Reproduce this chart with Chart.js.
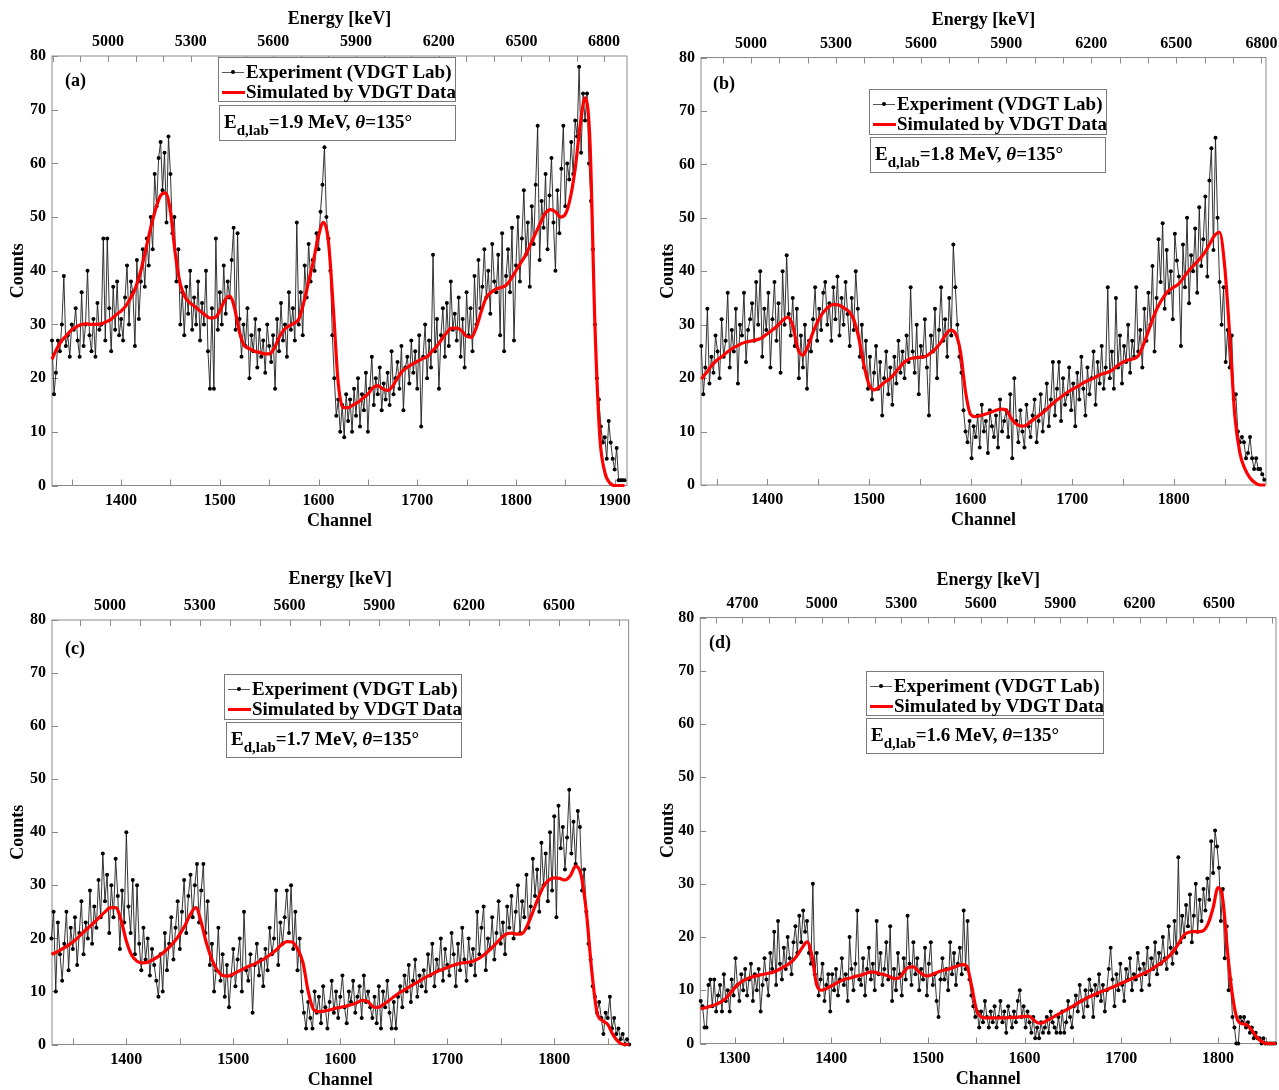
<!DOCTYPE html>
<html>
<head>
<meta charset="utf-8">
<script src="https://cdn.jsdelivr.net/npm/chart.js@4.4.1/dist/chart.umd.min.js"></script>
<style>
  body { margin: 0; background: #fff; width: 1279px; height: 1090px; position: relative; overflow: hidden;
         font-family: "Liberation Serif", "Times New Roman", serif; font-weight: bold; color: #000; }
  canvas { position: absolute; }
  .box { position: absolute; background: #fff; border: 1px solid #7a7a7a; box-sizing: border-box; }
  .txt { position: absolute; font-size: 19px; line-height: 20px; white-space: nowrap; }
  .sub { font-size: 15px; position: relative; top: 7px; }
  .tag { position: absolute; font-size: 18px; line-height: 20px; }
  .ln { position: absolute; left: 3px; width: 22px; height: 1px; background: #555; }
  .dot { position: absolute; left: 12px; width: 4px; height: 4px; border-radius: 50%; background: #000; }
  .red { position: absolute; left: 3px; width: 23px; height: 3px; background: #ff0000; }
</style>
</head>
<body>
<canvas id="ca" width="640" height="545" style="left:0;top:0"></canvas>
<canvas id="cb" width="639" height="545" style="left:640px;top:0"></canvas>
<canvas id="cc" width="640" height="530" style="left:0;top:560px"></canvas>
<canvas id="cd" width="639" height="530" style="left:640px;top:560px"></canvas>
<script>
// tick labels
const chanLabels = [1300, 1400, 1500, 1600, 1700, 1800, 1900];
const energyLabels = [4700, 5000, 5300, 5600, 5900, 6200, 6500, 6800];

// experiment counts, one value every 2 channels
const expStartA = 1330;
const expA = [
  27,17,21,27,25,30,39,26,28,24,30,29,33,27,24,36,26,30,40,28,25,31,24,34,29,
  30,46,27,46,33,25,37,29,38,28,31,27,35,41,30,38,36,26,42,31,38,44,37,46,41,
  50,44,58,52,61,64,55,62,49,65,58,47,50,38,44,30,36,28,37,32,40,29,35,30,38,
  27,34,30,40,25,18,33,18,46,29,36,30,41,32,38,35,42,48,29,47,31,24,30,26,33,
  20,28,25,31,22,29,24,27,21,30,26,23,28,18,31,25,34,27,30,24,36,29,33,27,49,
  30,36,28,41,35,45,38,42,40,47,44,51,56,63,50,46,40,28,20,13,16,10,15,9,17,
  12,16,10,18,13,20,11,17,14,21,10,18,24,15,20,17,22,14,19,16,21,15,25,17,20,
  23,18,26,14,22,24,19,27,21,25,18,28,11,24,30,20,27,22,43,25,31,18,28,33,24,
  34,26,38,29,32,27,35,24,31,22,36,28,33,25,39,30,42,33,37,44,35,40,32,45,38,
  36,43,28,47,25,39,44,36,48,27,41,50,38,46,55,43,49,37,52,45,56,67,42,53,48,
  58,44,54,61,49,40,55,47,59,67,52,60,57,64,58,68,65,78,62,73,68,73,60,53,44,
  30,20,16,11,8,9,5,12,8,5,3,7,1,1,1,1
];
const expStartB = 1335;
const expB = [
  26,17,22,33,19,24,21,28,25,20,31,24,27,36,22,29,25,33,19,30,28,36,23,29,31,
  34,27,38,30,40,24,33,29,36,22,31,38,27,34,21,40,30,43,32,28,35,26,33,20,28,
  22,30,18,27,25,31,37,27,33,29,36,38,30,34,27,37,31,39,28,35,30,38,32,26,35,
  29,40,33,24,30,22,27,18,24,16,21,26,18,23,13,20,25,17,22,15,24,19,27,21,25,
  20,28,23,37,25,21,30,17,26,24,31,22,13,28,25,33,20,29,37,27,31,24,35,28,45,
  37,30,24,21,14,10,8,12,5,11,9,13,7,15,10,12,6,14,11,9,13,7,16,10,12,
  14,9,17,5,20,12,8,14,10,7,15,11,9,13,16,8,12,17,10,14,19,11,16,23,13,
  18,23,12,20,15,17,22,14,19,11,21,16,24,18,13,22,17,20,25,15,23,19,26,18,22,
  37,20,25,18,35,22,28,19,26,23,30,21,27,24,37,25,29,22,33,27,36,30,41,25,35,
  46,38,49,33,44,36,40,31,47,42,39,26,45,37,50,34,43,40,48,36,52,41,46,54,39,
  57,63,44,65,50,38,30,37,23,29,22,28,16,17,10,8,9,8,5,6,9,5,3,5,3,
  3,2,1
];
const expStartC = 1330;
const expC = [
  20,25,10,23,17,12,19,25,14,22,18,24,15,21,27,17,23,20,29,19,26,22,31,24,36,
  27,32,21,30,24,35,28,18,29,23,40,26,21,31,17,30,19,14,22,16,20,13,18,15,12,
  9,17,10,21,14,19,24,16,22,27,18,25,31,21,28,32,24,30,34,23,29,34,21,27,15,
  19,10,14,22,12,17,9,15,7,13,18,11,16,20,10,25,14,12,17,6,15,19,13,16,11,
  18,14,22,17,20,29,15,23,19,24,29,21,30,18,25,14,20,10,6,3,8,5,3,10,6,
  9,4,11,7,3,8,12,6,10,5,9,13,7,4,10,8,12,6,9,11,5,13,8,10,7,
  5,9,4,11,3,10,7,12,6,3,8,3,9,11,7,13,10,15,8,12,16,9,13,11,14,
  10,17,13,19,11,16,14,20,12,18,15,13,21,17,11,19,14,22,16,12,20,15,18,13,25,
  17,22,26,14,20,18,24,16,21,27,19,23,17,26,22,28,20,25,30,21,27,24,32,22,26,
  35,28,33,25,38,30,36,27,40,29,43,24,45,37,41,33,39,48,36,42,34,44,41,29,33,
  25,19,16,11,9,6,8,5,2,6,5,9,3,5,2,3,1,2,0,1,0
];
const expStartD = 1265;
const expD = [
  8,7,3,3,11,12,7,12,6,9,11,6,13,8,10,6,12,9,16,11,8,13,10,14,9,
  12,15,8,13,10,14,6,11,16,12,9,17,14,21,11,23,15,12,18,14,20,16,13,19,22,
  17,24,19,25,21,23,17,15,30,13,17,9,12,15,8,11,13,6,13,10,14,9,12,16,11,
  13,8,20,14,10,15,25,12,11,16,9,14,18,12,15,10,23,13,17,11,14,19,12,22,8,
  14,10,17,13,9,16,12,24,15,11,19,13,16,10,14,12,18,9,15,19,11,13,8,5,12,
  16,12,14,10,19,13,17,11,15,18,13,25,14,23,12,9,7,5,6,3,6,4,8,5,3,
  6,4,7,3,5,8,4,6,2,7,5,3,6,4,8,10,5,7,3,6,4,2,5,1,3,
  1,4,2,3,5,2,6,4,3,2,5,2,6,2,4,8,5,3,7,9,6,11,8,5,10,
  7,12,10,5,11,9,13,8,11,6,10,14,18,12,7,13,10,15,11,8,14,12,16,10,13,
  12,17,14,10,15,13,18,11,16,14,19,13,17,15,20,16,14,22,18,15,23,17,35,19,24,
  20,26,22,28,19,24,30,21,27,23,29,25,31,27,38,32,40,37,33,23,29,16,22,10,12,
  5,3,0,0,5,4,5,3,4,2,3,1,2,1,1,0,1,0,0,0,0,0,0
];

// simulated curves, one value every 5 channels
const simStartA = 1330;
const simA = [
  23.5,25.5,27,28,29,29.6,30,30.1,30,30,
  30.1,30.5,31,31.8,32.5,33.5,35,37,40,44,
  48,51.5,54,54.5,51,43,37.5,35,34,33.3,
  32.5,31.8,31.2,31.3,32.5,34.5,35.3,33,28.5,26,
  25.5,25,24.8,24.5,24.5,25.5,27.5,29,29.7,30.2,
  31,34,38,42,46.5,49,45.5,33,19,14.5,
  14.5,15,15.5,16.3,17,18.2,18.6,18,17.7,18.5,
  20,21.3,22,22.6,23.1,23.6,24,25,26,27.3,
  28.5,29.3,29.3,28.8,27.8,27.6,29.5,32.5,35,36,
  36.6,36.9,37.3,38.5,40,41.5,43,45,47,49,
  50.8,51.4,51,50,50.5,53.5,59,67,72.2,64,
  30,9,2.5,0.5,0,0,0
];
const simStartB = 1335;
const simB = [
  19.8,21,22.3,23.3,24,24.8,25.5,26,26.5,26.8,
  27,27.2,27.6,28.3,29,29.8,30.8,31.4,29.8,25.5,
  24.3,26,28.6,30.8,32.3,33.3,33.8,33.7,33.2,32.5,
  31,27.5,22.5,18.8,17.8,18.3,19.2,19.8,20.8,22,
  23,23.6,23.8,23.9,24,24.6,25.4,26.5,28,29,
  28.4,25,17.5,13.2,12.8,13,13.3,13.6,14,14.2,
  14,12.5,11.4,11,11.2,12,12.7,13.4,14.2,15.1,
  15.9,16.6,17.3,17.9,18.4,19,19.5,19.9,20.4,20.8,
  21.1,21.6,22.4,23,23.4,23.6,24.2,26.2,28.8,31.5,
  33.6,35.2,36.4,37,37.7,38.9,40.2,41.2,42.2,43.4,
  45,46.7,47.3,41,28,13,6,3,1.3,0.4,
  0,0
];
const simStartC = 1330;
const simC = [
  17,17.4,18,18.6,19.3,20.2,21.2,22.1,23,24,
  25,25.8,25.8,23.5,19.5,16.8,15.7,15.4,15.5,16,
  16.6,17.4,18.3,19.4,20.8,22.5,24.6,25.8,23,19,
  16,14,13,12.9,13.3,13.8,14.3,14.8,15.2,15.7,
  16.3,17,17.8,18.8,19.4,19.3,18,15.5,10,6.6,
  6.2,6.3,6.5,6.8,7,7.2,7.5,7.8,8.3,8.2,
  7.2,7,7.5,8.2,9,9.7,10.3,10.9,11.5,12.1,
  12.7,13.2,13.7,14.1,14.5,14.9,15.2,15.4,15.5,15.8,
  16.3,17,17.9,18.9,20,20.8,21,20.8,20.9,22.5,
  25,27.6,29.8,31,31.4,31.3,31,31.8,33.6,32,
  25,14,6,4.5,3.8,1.8,0.5,0,0
];
const simStartD = 1265;
const simD = [
  6.5,6.7,7,7.3,7.7,8.3,9.3,10.4,11.3,11.9,
  12.3,12.6,12.8,13,13.2,13.4,13.8,14.3,14.8,15.5,
  16.6,18,19.1,16.5,11,10,10.3,10.8,11.3,11.8,
  12.1,12.3,12.6,12.8,13.1,13.4,13.4,13.1,12.9,12.6,
  12.2,12.3,13.4,14.3,14.4,13.6,12.9,12.7,13,13.4,
  13.7,13.9,14.2,14.5,14.8,14.6,11,6.5,5,4.8,
  4.8,4.8,4.8,4.8,4.9,4.9,5,5.1,5.1,4.3,
  3.8,4,4.5,5,5.5,6,6.5,7,7.6,8.1,
  8.6,9,9.4,9.8,10.1,10.5,10.9,11.3,11.7,12.1,
  12.5,12.9,13.3,13.8,14.4,15,15.7,16.5,17.6,19,
  20.4,20.9,21,21,21.2,22.6,25.5,29.3,27,17,
  9,4.5,3.7,3.5,2.5,1.2,0.4,0,0,0
];

Chart.defaults.font.family = '"Liberation Serif", "Times New Roman", serif';
Chart.defaults.font.weight = 'bold';
Chart.defaults.color = '#000';

// box and inward tick marks, matlab style
const frame = {
  id: 'frame',
  beforeDatasetsDraw(chart) {
    const { ctx, chartArea: a, scales } = chart;
    ctx.save();
    ctx.strokeStyle = '#8a8a8a';
    ctx.lineWidth = 1;
    ctx.strokeRect(a.left, a.top, a.right - a.left, a.bottom - a.top);
    ctx.beginPath();
    scales.x.ticks.forEach(t => {
      const p = Math.round(scales.x.getPixelForValue(t.value)) + 0.5;
      ctx.moveTo(p, a.bottom); ctx.lineTo(p, a.bottom - 6);
    });
    scales.x2.ticks.forEach(t => {
      const p = Math.round(scales.x2.getPixelForValue(t.value)) + 0.5;
      ctx.moveTo(p, a.top); ctx.lineTo(p, a.top + 6);
    });
    scales.y.ticks.forEach(t => {
      const p = Math.round(scales.y.getPixelForValue(t.value)) + 0.5;
      ctx.moveTo(a.left, p); ctx.lineTo(a.left + 6, p);
    });
    ctx.stroke();
    ctx.restore();
  }
};

// ticks on round multiples of step inside the axis range
function stepTicks(step) {
  return s => {
    const out = [];
    for (let v = Math.ceil(s.min / step) * step; v <= s.max; v += step) out.push({ value: v });
    s.ticks = out;
  };
}

function makeChart(id, p) {
  const expData = p.exp.map((v, i) => ({ x: p.expStart + 2 * i, y: v }));
  const simData = p.sim.map((v, i) => ({ x: p.simStart + 5 * i, y: v }));
  const tickFont = { size: 16, weight: 'bold', lineHeight: 1 };
  const titleFont = { size: 18, weight: 'bold', lineHeight: 1 };
  const noGrid = { display: false, drawTicks: false };
  return new Chart(document.getElementById(id), {
    type: 'line',
    data: {
      datasets: [
        { label: 'Simulated by VDGT Data', data: simData, borderColor: '#ff0000', borderWidth: 3.2,
          pointRadius: 0, pointHoverRadius: 0, cubicInterpolationMode: 'monotone', fill: false, order: 0, clip: 6 },
        { label: 'Experiment (VDGT Lab)', data: expData, borderColor: 'rgba(30,30,30,0.9)', borderWidth: 1,
          pointRadius: 2, pointHoverRadius: 0, pointBackgroundColor: '#000', pointBorderWidth: 0,
          fill: false, order: 1, clip: 6 }
      ]
    },
    options: {
      responsive: false,
      animation: false,
      devicePixelRatio: 1,
      events: [],
      layout: { padding: { left: 0, top: 0, bottom: 0, right: p.padR } },
      plugins: { legend: { display: false }, tooltip: { enabled: false } },
      scales: {
        x: {
          type: 'linear', position: 'bottom', min: p.cMin, max: p.cMax,
          grid: noGrid, border: { display: false },
          afterBuildTicks: stepTicks(50),
          ticks: { autoSkip: false, maxRotation: 0, minRotation: 0,
                   padding: 7, font: tickFont, color: '#000',
                   callback: v => chanLabels.includes(v) ? String(v) : '' },
          title: { display: true, text: 'Channel', font: titleFont, color: '#000', padding: { top: 0, bottom: p.chanPad } },
          afterFit: s => { s.height = p.bottomH; s.paddingLeft = 0; s.paddingRight = 0; }
        },
        x2: {
          type: 'linear', position: 'top', min: p.eMin, max: p.eMax,
          grid: noGrid, border: { display: false },
          afterBuildTicks: stepTicks(100),
          ticks: { autoSkip: false, maxRotation: 0, minRotation: 0,
                   padding: 6, font: tickFont, color: '#000',
                   callback: v => energyLabels.includes(v) ? String(v) : '' },
          title: { display: true, text: 'Energy [keV]', font: titleFont, color: '#000', padding: { top: p.enPad, bottom: 0 } },
          afterFit: s => { s.height = p.topH; s.paddingLeft = 0; s.paddingRight = 0; }
        },
        y: {
          type: 'linear', position: 'left', min: 0, max: 80,
          grid: noGrid, border: { display: false },
          afterBuildTicks: stepTicks(10),
          ticks: { padding: 6, font: tickFont, color: '#000' },
          title: { display: true, text: 'Counts', font: titleFont, color: '#000', padding: { top: p.cntPad, bottom: 0 } },
          afterFit: s => { s.width = p.leftW; s.paddingTop = 0; s.paddingBottom = 0; }
        }
      }
    },
    plugins: [frame]
  });
}

makeChart('ca', { exp: expA, expStart: expStartA, sim: simA, simStart: simStartA,
  cMin: 1330, cMax: 1912.5, eMin: 4797, eMax: 6883,
  leftW: 52, padR: 13, topH: 56, bottomH: 59.5, chanPad: 15, enPad: 10, cntPad: 9 });
makeChart('cb', { exp: expB, expStart: expStartB, sim: simB, simStart: simStartB,
  cMin: 1334.7, cMax: 1890.7, eMin: 4824, eMax: 6816,
  leftW: 61, padR: 13, topH: 57.5, bottomH: 60, chanPad: 16, enPad: 11, cntPad: 19 });
makeChart('cc', { exp: expC, expStart: expStartC, sim: simC, simStart: simStartC,
  cMin: 1330.5, cMax: 1869.5, eMin: 4806, eMax: 6733,
  leftW: 52, padR: 11.4, topH: 60, bottomH: 45.5, chanPad: 1, enPad: 10, cntPad: 9 });
makeChart('cd', { exp: expD, expStart: expStartD, sim: simD, simStart: simStartD,
  cMin: 1264.6, cMax: 1860, eMin: 4541, eMax: 6715,
  leftW: 60.3, padR: 3, topH: 57.5, bottomH: 46.5, chanPad: 2, enPad: 11, cntPad: 19 });

// legends, condition boxes and panel tags
const notes = [
  { lx: 218, ly: 57, lw: 238, lh: 45, ax: 219, ay: 105, aw: 237, ah: 36, ed: '1.9', tag: '(a)', tx: 65, ty: 70 },
  { lx: 869, ly: 89, lw: 238, lh: 46, ax: 870, ay: 137, aw: 236, ah: 36, ed: '1.8', tag: '(b)', tx: 713, ty: 73 },
  { lx: 224, ly: 674, lw: 238, lh: 46, ax: 226, ay: 722, aw: 236, ah: 36, ed: '1.7', tag: '(c)', tx: 65, ty: 638 },
  { lx: 866, ly: 671, lw: 238, lh: 45, ax: 866, ay: 718, aw: 238, ah: 36, ed: '1.6', tag: '(d)', tx: 709, ty: 632 }
];
notes.forEach(n => {
  const lg = document.createElement('div');
  lg.className = 'box';
  lg.style.cssText = `left:${n.lx}px;top:${n.ly}px;width:${n.lw}px;height:${n.lh}px`;
  lg.innerHTML =
    '<div class="ln" style="top:14px"></div><div class="dot" style="top:12px"></div>' +
    '<div class="txt" style="left:27px;top:4px">Experiment (VDGT Lab)</div>' +
    '<div class="red" style="top:33px"></div>' +
    '<div class="txt" style="left:27px;top:24px">Simulated by VDGT Data</div>';
  document.body.appendChild(lg);

  const an = document.createElement('div');
  an.className = 'box';
  an.style.cssText = `left:${n.ax}px;top:${n.ay}px;width:${n.aw}px;height:${n.ah}px`;
  an.innerHTML = `<div class="txt" style="left:4px;top:6px">E<span class="sub">d,lab</span>=${n.ed} MeV, <i>θ</i>=135°</div>`;
  document.body.appendChild(an);

  const tg = document.createElement('div');
  tg.className = 'tag';
  tg.style.cssText = `left:${n.tx}px;top:${n.ty}px`;
  tg.textContent = n.tag;
  document.body.appendChild(tg);
});
</script>
</body>
</html>
